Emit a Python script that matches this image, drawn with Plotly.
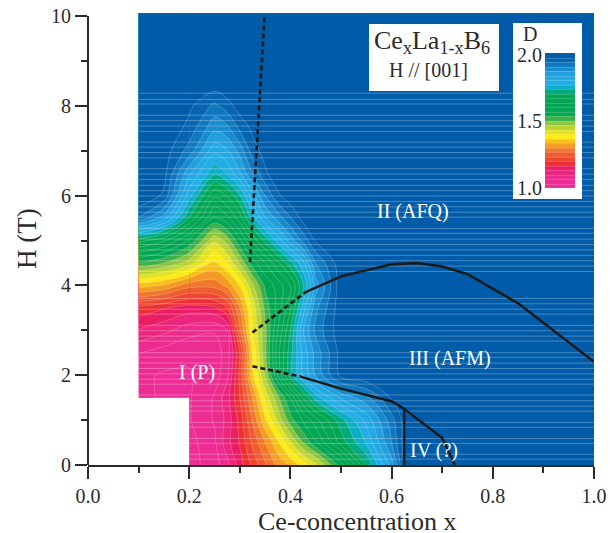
import plotly.graph_objects as go

# Data
conc = [0.1, 0.15, 0.2, 0.25, 0.275, 0.3, 0.325, 0.35, 0.375, 0.4, 0.425, 0.45, 0.5, 0.55, 0.6, 0.625, 0.65, 0.7, 1.0]
field = [0, 0.5, 1, 1.5, 2, 2.5, 3, 3.5, 4, 4.5, 5, 5.5, 6, 6.5, 7, 7.5, 8, 8.5, 10.1]
N = None
dim = [
    [N, N, 1.02, 1.05, 1.09, 1.15, 1.21, 1.26, 1.31, 1.34, 1.38, 1.42, 1.55, 1.70, 1.85, 1.97, 2, 2, 2],
    [N, N, 1.02, 1.06, 1.12, 1.17, 1.24, 1.30, 1.36, 1.43, 1.50, 1.56, 1.68, 1.77, 1.90, 1.98, 2, 2, 2],
    [N, N, 1.03, 1.07, 1.11, 1.18, 1.27, 1.36, 1.44, 1.52, 1.57, 1.62, 1.72, 1.81, 1.92, 1.98, 2, 2, 2],
    [1.04, 1.03, 1.03, 1.07, 1.12, 1.20, 1.30, 1.41, 1.49, 1.57, 1.67, 1.75, 1.84, 1.89, 1.97, 2, 2, 2, 2],
    [1.04, 1.03, 1.03, 1.05, 1.09, 1.21, 1.36, 1.47, 1.60, 1.72, 1.80, 1.87, 1.98, 2, 2, 2, 2, 2, 2],
    [1.07, 1.05, 1.04, 1.05, 1.08, 1.20, 1.37, 1.49, 1.62, 1.72, 1.81, 1.88, 1.98, 2, 2, 2, 2, 2, 2],
    [1.13, 1.11, 1.08, 1.07, 1.10, 1.26, 1.40, 1.49, 1.60, 1.70, 1.83, 1.91, 1.99, 2, 2, 2, 2, 2, 2],
    [1.19, 1.17, 1.15, 1.16, 1.20, 1.30, 1.41, 1.51, 1.58, 1.66, 1.78, 1.89, 1.99, 2, 2, 2, 2, 2, 2],
    [1.35, 1.33, 1.28, 1.28, 1.31, 1.37, 1.46, 1.54, 1.58, 1.63, 1.73, 1.85, 1.99, 2, 2, 2, 2, 2, 2],
    [1.53, 1.50, 1.45, 1.36, 1.40, 1.47, 1.55, 1.60, 1.66, 1.72, 1.79, 1.90, 1.99, 2, 2, 2, 2, 2, 2],
    [1.68, 1.64, 1.56, 1.44, 1.48, 1.56, 1.64, 1.71, 1.78, 1.85, 1.91, 1.97, 2, 2, 2, 2, 2, 2, 2],
    [1.93, 1.85, 1.70, 1.56, 1.59, 1.65, 1.75, 1.83, 1.88, 1.93, 1.98, 1.995, 2, 2, 2, 2, 2, 2, 2],
    [2, 1.96, 1.78, 1.64, 1.67, 1.73, 1.82, 1.90, 1.96, 1.99, 2, 2, 2, 2, 2, 2, 2, 2, 2],
    [2, 1.98, 1.84, 1.74, 1.77, 1.83, 1.90, 1.96, 1.99, 2, 2, 2, 2, 2, 2, 2, 2, 2, 2],
    [2, 1.985, 1.92, 1.81, 1.83, 1.88, 1.95, 1.98, 2, 2, 2, 2, 2, 2, 2, 2, 2, 2, 2],
    [2, 2, 1.955, 1.875, 1.89, 1.94, 1.975, 2, 2, 2, 2, 2, 2, 2, 2, 2, 2, 2, 2],
    [2, 2, 1.975, 1.925, 1.95, 1.985, 2, 2, 2, 2, 2, 2, 2, 2, 2, 2, 2, 2, 2],
    [2, 2, 2, 1.99, 2, 2, 2, 2, 2, 2, 2, 2, 2, 2, 2, 2, 2, 2, 2],
    [2] * 19,
]
scan_rows = [8.28, 8.14, 8.04, 7.79, 7.67, 7.55, 7.43, 7.19, 7.08, 6.96, 6.84, 6.60, 6.48, 6.36, 6.23, 6.11,
             5.99, 5.87, 5.75, 5.63, 5.52, 5.27, 5.16, 5.03, 4.91, 4.79, 4.67, 4.55, 4.43, 4.31, 3.71, 3.59,
             3.47, 3.36, 3.11, 2.99, 2.87, 2.76, 2.50, 2.40, 2.27, 2.15, 2.03, 1.91, 1.80, 1.56, 1.43, 1.31,
             1.20, 0.95, 0.84, 0.59, 0.48, 0.24, 0.13]

afq_dash_x, afq_dash_y = [0.32, 0.349], [4.52, 10.0]
dome_dash_x, dome_dash_y = [0.325, 0.43], [2.95, 3.85]
dome_x = [0.43, 0.5, 0.6, 0.65, 0.7, 0.75, 0.85, 1.0]
dome_y = [3.85, 4.2, 4.47, 4.5, 4.42, 4.25, 3.6, 2.3]
low_dash_x, low_dash_y = [0.325, 0.42], [2.2, 1.97]
low_x = [0.42, 0.5, 0.6, 0.625, 0.7, 0.725]
low_y = [1.97, 1.7, 1.42, 1.25, 0.6, 0.0]
vert_x, vert_y = [0.625, 0.625], [1.25, 0.0]

x_ticks = [0.0, 0.2, 0.4, 0.6, 0.8, 1.0]
x_labels = ["0.0", "0.2", "0.4", "0.6", "0.8", "1.0"]
y_ticks = [0, 2, 4, 6, 8, 10]
cbar_ticks = ["2.0", "1.5", "1.0"]
cbar_values = [2.0, 1.5, 1.0]

scale = [
    [0.00, "#EE2E9B"], [0.10, "#EC2A8C"], [0.155, "#EB1C63"], [0.19, "#ED2E33"], [0.28, "#EF6A2E"],
    [0.34, "#F4A81F"], [0.37, "#F8C81A"], [0.39, "#FFEB14"], [0.415, "#FDE915"], [0.44, "#D8DE2A"],
    [0.48, "#A8CE3A"], [0.52, "#72BB46"], [0.55, "#00A651"], [0.72, "#00A651"], [0.765, "#00AEB4"],
    [0.80, "#22AEE6"], [0.87, "#22A6E2"], [0.93, "#1581C8"], [0.97, "#0B6DB7"], [1.00, "#005BA9"],
]
contours = dict(start=1.0, end=1.9667, size=1 / 30, coloring="fill")
line = dict(color="rgba(255,255,255,0.3)", width=0.7, smoothing=1)
SERIF = "Liberation Serif"
DARK = "#2b2b2b"

fig = go.Figure()
right_i = conc.index(0.2)
over_i = conc.index(0.25)
low_rows = field.index(1.5)
fig.add_trace(go.Contour(
    x=conc[:over_i + 1], y=field[low_rows:], z=[r[:over_i + 1] for r in dim[low_rows:]],
    zmin=1, zmax=2, autocontour=False, contours=contours, line=line, colorscale=scale, showscale=False,
))
fig.add_trace(go.Contour(
    x=conc[right_i:], y=field, z=[r[right_i:] for r in dim], zmin=1, zmax=2, autocontour=False,
    contours=contours, line=line, colorscale=scale, showscale=True,
    colorbar=dict(x=(545 - 88) / 506, xanchor="left", xpad=0, y=(465 - 188) / 452, yanchor="bottom", ypad=0,
                  len=135, lenmode="pixels", thickness=30, thicknessmode="pixels",
                  outlinewidth=0, ticks="", showticklabels=False, borderwidth=0),
))

sx, sy = [], []
for h in scan_rows:
    sx += [0.1 if h >= 1.5 else 0.2, 1.0, None]
    sy += [h, h, None]
fig.add_trace(go.Scatter(x=sx, y=sy, mode="lines", line=dict(color="rgba(255,255,255,0.28)", width=1),
                         hoverinfo="skip", showlegend=False))

solid = dict(color="#1a1a1a", width=2.4)
dash = dict(color="#1a1a1a", width=2.6, dash="5px,3px")
for xs, ys, st in [(afq_dash_x, afq_dash_y, dash), (dome_dash_x, dome_dash_y, dash), (dome_x, dome_y, solid),
                   (low_dash_x, low_dash_y, dash), (low_x, low_y, solid), (vert_x, vert_y, solid)]:
    fig.add_trace(go.Scatter(x=xs, y=ys, mode="lines", line=st, showlegend=False, hoverinfo="skip"))

def px(x):
    return (x - 88) / 506

def py(y):
    return (465 - y) / 452

ann = []
def text(t, x, y, size, color=DARK, angle=0):
    ann.append(dict(text=t, x=px(x), y=py(y), xref="paper", yref="paper", showarrow=False, textangle=angle,
                    font=dict(family=SERIF, size=size, color=color), xanchor="center", yanchor="middle"))

text("Ce<sub>x</sub>La<sub>1-x</sub>B<sub>6</sub>", 432, 42, 26)
text("H // [001]", 428, 70, 20)
text("D", 530, 34, 20)
for lab, v in zip(cbar_ticks, cbar_values):
    text(lab, 529, 188 - 135 * (v - 1) + (2 if v == 2 else 0), 20)
text("II (AFQ)", 413, 211, 20, "white")
text("III (AFM)", 450, 358, 20, "white")
text("I (P)", 197, 372, 20, "white")
text("IV (?)", 434, 450, 20, "white")
text("Ce-concentration x", 357, 521, 26)
text("H (T)", 27, 239, 27, angle=-90)

shapes = [
    dict(type="rect", xref="paper", yref="paper", x0=px(369), x1=px(499), y0=py(91), y1=py(24),
         fillcolor="white", line_width=0),
    dict(type="rect", xref="paper", yref="paper", x0=px(513), x1=px(582), y0=py(199), y1=py(23),
         fillcolor="white", line_width=0),
    dict(type="line", xref="paper", yref="y", x0=0, x1=0, y0=0, y1=10, line=dict(color=DARK, width=2)),
]

fig.update_layout(
    width=616, height=533, margin=dict(l=88, r=22, t=13, b=68, pad=0, autoexpand=False),
    paper_bgcolor="white", plot_bgcolor="white", showlegend=False,
    font=dict(family=SERIF, color=DARK), annotations=ann, shapes=shapes,
    xaxis=dict(range=[0, 1], tickvals=x_ticks, ticktext=x_labels, ticks="outside", ticklen=12, tickwidth=1.5,
               tickcolor=DARK, showline=True, linecolor=DARK, linewidth=2, showgrid=False, zeroline=False,
               tickfont=dict(family=SERIF, size=20, color=DARK), automargin=False,
               minor=dict(dtick=0.1, ticks="outside", ticklen=6, tickwidth=1.5, tickcolor=DARK, showgrid=False)),
    yaxis=dict(range=[0, 452 / 44.9], tickvals=y_ticks, ticks="outside", ticklen=12, tickwidth=1.5,
               tickcolor=DARK, showline=False, showgrid=False, zeroline=False,
               tickfont=dict(family=SERIF, size=20, color=DARK), automargin=False,
               minor=dict(tickvals=[1, 3, 5, 7, 9], ticks="outside", ticklen=6, tickwidth=1.5, tickcolor=DARK, showgrid=False)),
)
fig.write_html("out.html", config=dict(displayModeBar=False),
               post_script="document.body.style.margin='0';window.dispatchEvent(new Event('resize'));")
